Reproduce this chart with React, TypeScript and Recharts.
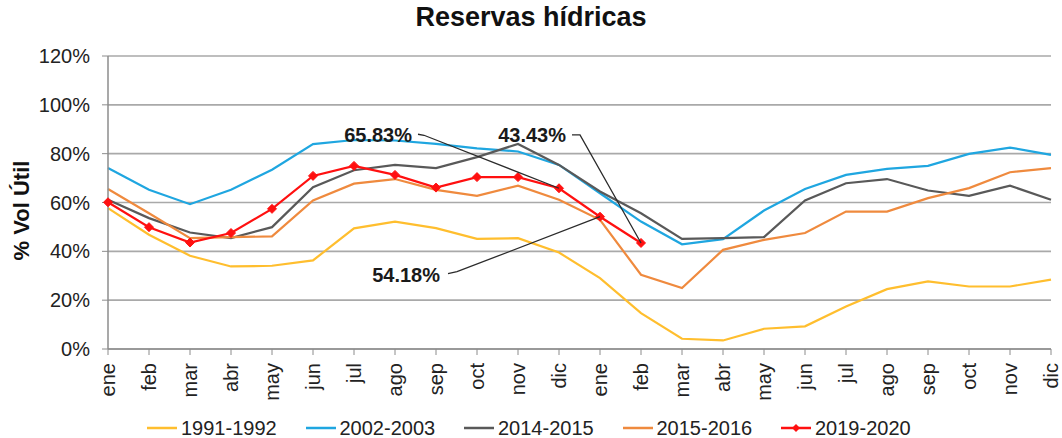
import React from "react";
import {
  LineChart,
  Line,
  XAxis,
  YAxis,
  CartesianGrid,
  Legend,
  LabelList,
  Label,
} from "recharts";

const months = [
  "ene", "feb", "mar", "abr", "may", "jun", "jul", "ago", "sep", "oct", "nov", "dic",
  "ene", "feb", "mar", "abr", "may", "jun", "jul", "ago", "sep", "oct", "nov", "dic",
];

const s1991 = [57.7, 46.8, 38.2, 33.8, 34.1, 36.3, 49.4, 52.2, 49.5, 45.1, 45.4, 39.5, 29.0, 14.7, 4.2, 3.5, 8.3, 9.3, 17.4, 24.5, 27.7, 25.6, 25.6, 28.4];
const s2002 = [74.1, 65.2, 59.3, 65.2, 73.4, 83.9, 85.6, 85.4, 84.0, 82.2, 80.9, 75.4, 63.8, 52.2, 42.9, 45.0, 56.7, 65.5, 71.3, 73.8, 75.0, 79.9, 82.5, 79.5];
const s2014 = [61.1, 53.6, 47.7, 45.4, 49.9, 66.3, 73.2, 75.4, 74.1, 78.6, 84.0, 75.4, 64.5, 55.6, 45.1, 45.4, 45.8, 60.8, 67.9, 69.6, 64.9, 62.7, 66.9, 61.1];
const s2015 = [65.5, 55.6, 45.4, 45.8, 46.1, 60.8, 67.7, 69.6, 65.2, 62.7, 66.9, 61.1, 52.9, 30.4, 25.0, 40.6, 44.7, 47.5, 56.3, 56.3, 61.8, 65.9, 72.4, 74.1];
const s2019: (number | null)[] = [60.1, 49.9, 43.6, 47.5, 57.4, 70.9, 75.0, 71.3, 66.1, 70.4, 70.4, 65.83, 54.18, 43.43, null, null, null, null, null, null, null, null, null, null];

const yTicks = [0, 20, 40, 60, 80, 100, 120];

const series = [
  { key: "s1991", name: "1991-1992", color: "#FFBE2E" },
  { key: "s2002", name: "2002-2003", color: "#1FA6E0" },
  { key: "s2014", name: "2014-2015", color: "#595959" },
  { key: "s2015", name: "2015-2016", color: "#EF8A3E" },
  { key: "s2019", name: "2019-2020", color: "#FF1010" },
];

// point indexes of 2019-2020 that carry a callout
const calloutIdx = [11, 12, 13];

const data = months.map((m, i) => ({
  month: m,
  s1991: s1991[i],
  s2002: s2002[i],
  s2014: s2014[i],
  s2015: s2015[i],
  s2019: s2019[i],
}));

const FONT = "'Liberation Sans', Arial, sans-serif";

// callout placement relative to the point: leader path and text anchor (end)
const calloutStyle: Record<number, { path: [number, number][]; tx: number; ty: number }> = {
  11: { path: [[-135, -53], [-141, -54]], tx: -147, ty: -46 },
  12: { path: [[-143, 55], [-152, 57]], tx: -160, ty: 65 },
  13: { path: [[-61, -108], [-69, -108]], tx: -75, ty: -101 },
};

const Callout = (props: any) => {
  const { x, y, index, value } = props;
  if (!calloutIdx.includes(index) || value == null) return null;
  const st = calloutStyle[index];
  const pts = [[x, y], ...st.path.map(([dx, dy]) => [x + dx, y + dy])]
    .map((p) => p.join(","))
    .join(" ");
  return (
    <g>
      <polyline points={pts} fill="none" stroke="#2b2b2b" strokeWidth={1.3} />
      <text
        x={x + st.tx}
        y={y + st.ty}
        textAnchor="end"
        fontFamily={FONT}
        fontWeight="bold"
        fontSize={20}
        fill="#1a1a1a"
      >
        {Number(value).toFixed(2)}%
      </text>
    </g>
  );
};

const Diamond = (props: any) => {
  const { cx, cy, value, index } = props;
  if (value == null || cx == null || cy == null) return <g key={`dm-${index}`} />;
  const r = 4.5;
  return (
    <polygon
      key={`dm-${index}`}
      points={`${cx},${cy - r} ${cx + r},${cy} ${cx},${cy + r} ${cx - r},${cy}`}
      fill="#FF1010"
      stroke="#FF1010"
    />
  );
};

const MonthTick = (props: any) => {
  const { x, y, payload } = props;
  return (
    <g transform={`translate(${x},${y + 6})`}>
      <text
        transform="rotate(-90)"
        textAnchor="end"
        dy="0.35em"
        fontFamily={FONT}
        fontSize={20}
        fill="#222"
      >
        {payload.value}
      </text>
    </g>
  );
};

const LegendBox = () => (
  <div
    style={{
      display: "flex",
      height: 28,
      alignItems: "center",
      paddingLeft: 147,
      fontFamily: FONT,
      fontSize: 20,
      color: "#222",
    }}
  >
    {series.map((s) => (
      <div key={s.key} style={{ width: 158.5, display: "flex", alignItems: "center" }}>
        <svg width={32} height={12} style={{ marginRight: 2 }}>
          <line x1={0} y1={6} x2={30} y2={6} stroke={s.color} strokeWidth={2.5} />
          {s.key === "s2019" && <polygon points="15,2 19,6 15,10 11,6" fill={s.color} />}
        </svg>
        <span>{s.name}</span>
      </div>
    ))}
  </div>
);

export default function App() {
  return (
    <div
      style={{
        position: "absolute",
        left: 0,
        top: 0,
        width: 1062,
        height: 438,
        background: "#fff",
      }}
    >
      <div
        style={{
          position: "absolute",
          top: 4,
          left: 0,
          width: 1062,
          textAlign: "center",
          fontFamily: FONT,
          fontWeight: "bold",
          fontSize: 27,
          lineHeight: "27px",
          color: "#111",
        }}
      >
        Reservas hídricas
      </div>
      <LineChart
        width={1062}
        height={438}
        data={data}
        margin={{ top: 56, right: 11, left: 0, bottom: 9 }}
      >
        <CartesianGrid vertical={false} stroke="#a9a9a9" strokeWidth={1.6} />
        <XAxis
          dataKey="month"
          interval={0}
          height={52}
          tick={<MonthTick />}
          tickSize={6}
          stroke="#8c8c8c"
          axisLine={{ stroke: "#8c8c8c", strokeWidth: 1.5 }}
          tickLine={{ stroke: "#8c8c8c" }}
        />
        <YAxis
          width={108}
          domain={[0, 120]}
          ticks={yTicks}
          interval={0}
          tickFormatter={(v: number) => `${v}%`}
          tickSize={6}
          tickMargin={12}
          axisLine={{ stroke: "#8c8c8c", strokeWidth: 1.5 }}
          tickLine={{ stroke: "#8c8c8c" }}
          tick={{ fontFamily: FONT, fontSize: 20, fill: "#222" }}
        >
          <Label
            content={(p: any) => {
              const vb = p.viewBox || { x: 0, y: 56, height: 293 };
              const cx = 21;
              const cy = vb.y + vb.height / 2 + 8;
              return (
                <text
                  x={cx}
                  y={cy}
                  transform={`rotate(-90, ${cx}, ${cy})`}
                  textAnchor="middle"
                  dy="0.35em"
                  fontFamily={FONT}
                  fontWeight="bold"
                  fontSize={22}
                  fill="#111"
                >
                  % Vol Útil
                </text>
              );
            }}
          />
        </YAxis>
        <Legend
          verticalAlign="bottom"
          content={<LegendBox />}
          wrapperStyle={{ position: "absolute", top: 414, left: 0, bottom: "auto", width: 1062 }}
        />
        {series.slice(0, 4).map((s) => (
          <Line
            key={s.key}
            type="linear"
            dataKey={s.key}
            name={s.name}
            stroke={s.color}
            strokeWidth={2.2}
            dot={false}
            activeDot={false}
            isAnimationActive={false}
          />
        ))}
        <Line
          type="linear"
          dataKey="s2019"
          name="2019-2020"
          stroke="#FF1010"
          strokeWidth={2.2}
          dot={Diamond}
          activeDot={false}
          isAnimationActive={false}
        >
          <LabelList dataKey="s2019" content={<Callout />} />
        </Line>
      </LineChart>
    </div>
  );
}
